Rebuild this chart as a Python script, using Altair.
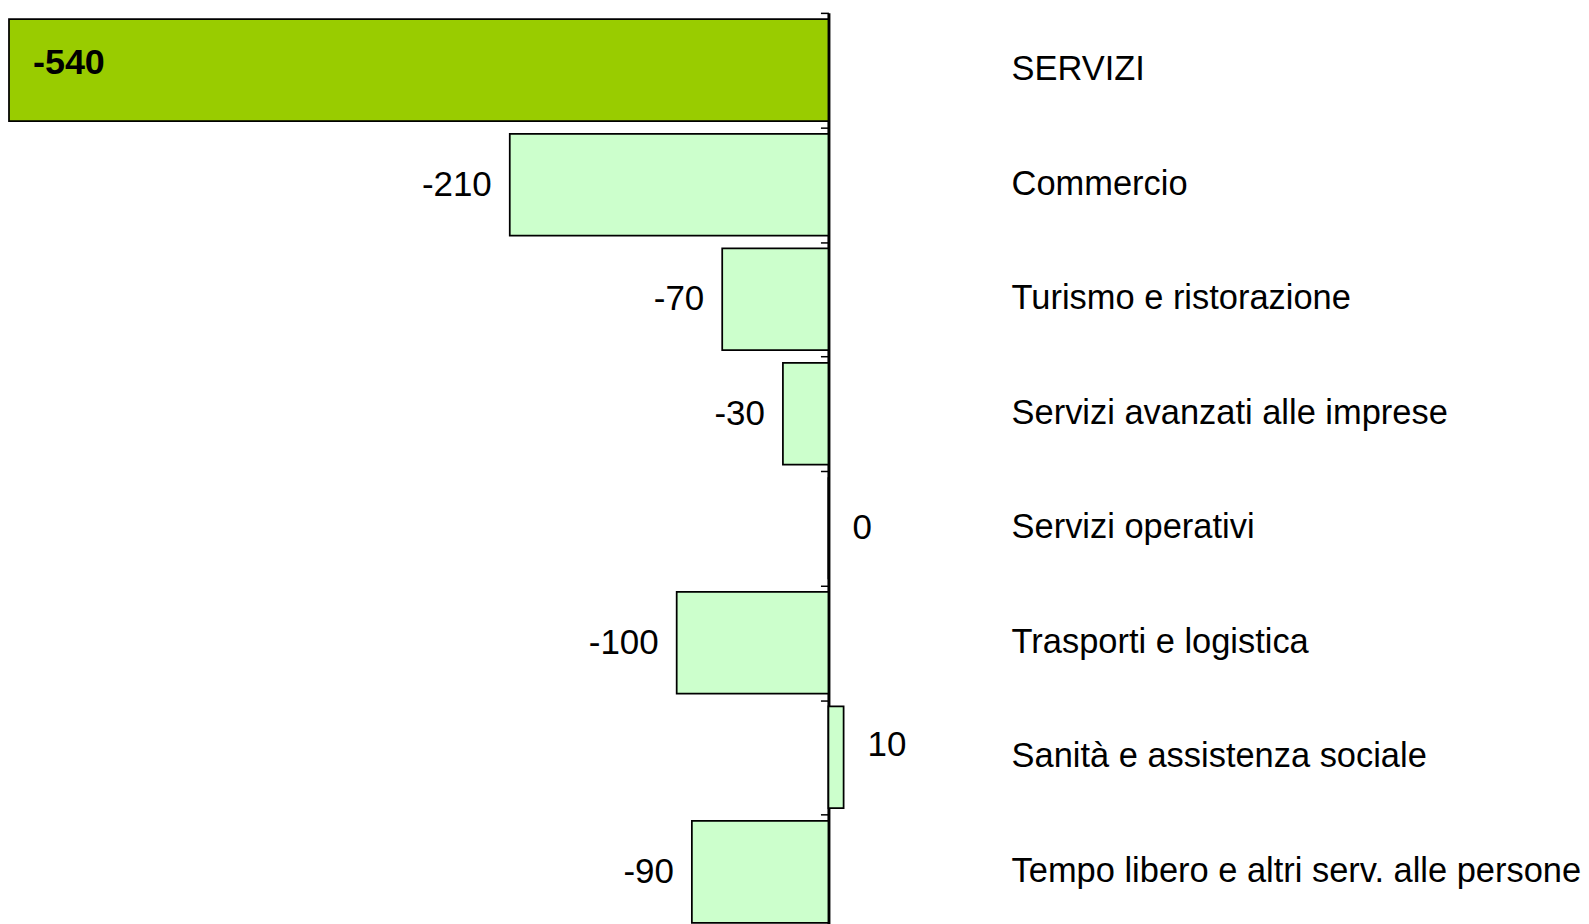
import altair as alt
import pandas as pd

categories = [
    "SERVIZI",
    "Commercio",
    "Turismo e ristorazione",
    "Servizi avanzati alle imprese",
    "Servizi operativi",
    "Trasporti e logistica",
    "Sanità e assistenza sociale",
    "Tempo libero e altri serv. alle persone",
]
values = [-540, -210, -70, -30, 0, -100, 10, -90]

df = pd.DataFrame({"category": categories, "value": values})
df["label"] = [str(v) for v in values]

FONT = "Liberation Sans"
x_scale = alt.Scale(domain=[-540, 0], nice=False, zero=False)
y_scale = alt.Scale(domain=categories, paddingInner=0, paddingOuter=0)

base = alt.Chart(df)

bars = base.mark_bar(size=102, stroke="black", strokeWidth=1.75).encode(
    x=alt.X("value:Q", scale=x_scale, axis=None),
    x2=alt.datum(0),
    y=alt.Y(
        "category:N",
        sort=categories,
        scale=y_scale,
        axis=alt.Axis(
            orient="left",
            offset=-821,
            labels=False,
            ticks=True,
            tickBand="extent",
            tickSize=8,
            tickColor="black",
            tickWidth=1.5,
            domainColor="black",
            domainWidth=3,
            grid=False,
            title=None,
        ),
    ),
    color=alt.condition(
        alt.datum.category == "SERVIZI", alt.value("#99CC00"), alt.value("#CCFFCC")
    ),
)

neg_labels = base.transform_filter(
    "datum.value < 0 && datum.category != 'SERVIZI'"
).mark_text(
    align="right", baseline="middle", dx=-18, fontSize=35, font=FONT, color="black"
).encode(
    x=alt.X("value:Q", scale=x_scale, axis=None),
    y=alt.Y(
        "category:N",
        sort=categories,
        scale=y_scale,
        axis=alt.Axis(
            orient="right",
            labels=True,
            ticks=False,
            tickSize=0,
            domain=False,
            grid=False,
            title=None,
            labelPadding=183,
            labelAlign="left",
            labelBaseline="middle",
            labelFont=FONT,
            labelFontSize=34.5,
            labelColor="black",
            labelLimit=1000,
        ),
    ),
    text="label:N",
)

zero_labels = base.transform_filter("datum.value == 0").mark_text(
    align="left", baseline="middle", dx=24, fontSize=35, font=FONT, color="black"
).encode(
    x=alt.X("value:Q", scale=x_scale, axis=None),
    y=alt.Y("category:N", sort=categories, scale=y_scale, axis=None),
    text="label:N",
)

pos_labels = base.transform_filter("datum.value > 0").mark_text(
    align="left", baseline="middle", dx=24, dy=-12, fontSize=35, font=FONT, color="black"
).encode(
    x=alt.X("value:Q", scale=x_scale, axis=None),
    y=alt.Y("category:N", sort=categories, scale=y_scale, axis=None),
    text="label:N",
)

top_label = base.transform_filter("datum.category == 'SERVIZI'").mark_text(
    align="left",
    baseline="middle",
    dx=24,
    dy=-7,
    fontSize=36,
    fontWeight="bold",
    font=FONT,
    color="black",
).encode(
    x=alt.X("value:Q", scale=x_scale, axis=None),
    y=alt.Y("category:N", sort=categories, scale=y_scale, axis=None),
    text="label:N",
)

chart = (
    alt.layer(bars, neg_labels, zero_labels, pos_labels, top_label)
    .resolve_axis(y="independent")
    .properties(
        width=821,
        height=918,
        padding={"left": 0, "top": 3, "right": 0, "bottom": 0},
    )
    .configure_view(stroke=None)
)

chart.save("out.html", embed_options={"renderer": "svg", "actions": False})
